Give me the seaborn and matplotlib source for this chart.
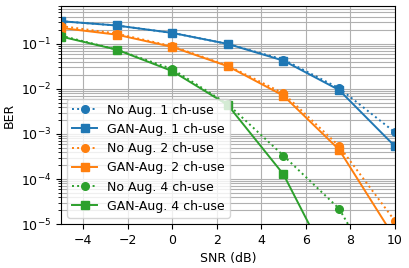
import matplotlib
matplotlib.use("Agg")
import matplotlib.pyplot as plt
import seaborn as sns
import numpy as np
import pandas as pd

snr = [-5, -2.5, 0, 2.5, 5, 7.5, 10]
noaug_1 = [0.32, 0.257, 0.176, 0.1, 0.045, 0.0104, 1.1e-3]
gan_1 = [0.32, 0.257, 0.176, 0.1, 0.0426, 0.0095, 5.4e-4]
noaug_2 = [0.25, 0.17, 0.089, 0.033, 0.008, 5.4e-4, 1.19e-5]
gan_2 = [0.227, 0.161, 0.086, 0.032, 0.0071, 4.5e-4, 4.9e-6]
noaug_4 = [0.153, 0.075, 0.0277, 0.0046, 3.3e-4, 2.2e-5, 1.6e-7]
gan_4 = [0.146, 0.075, 0.025, 0.0044, 1.27e-4, 5e-7, 1e-8]

labels = ["No Aug. 1 ch-use", "GAN-Aug. 1 ch-use", "No Aug. 2 ch-use",
          "GAN-Aug. 2 ch-use", "No Aug. 4 ch-use", "GAN-Aug. 4 ch-use"]
series = [noaug_1, gan_1, noaug_2, gan_2, noaug_4, gan_4]
colors = ["#1f77b4", "#1f77b4", "#ff7f0e", "#ff7f0e", "#2ca02c", "#2ca02c"]
styles = [":", "-", ":", "-", ":", "-"]
markers = ["o", "s", "o", "s", "o", "s"]

plt.rcParams['font.size'] = 9
fig, ax = plt.subplots(figsize=(4.09, 2.68), dpi=100)
fig.subplots_adjust(left=0.149, right=0.965, top=0.978, bottom=0.164)

for lab, vals, c, ls, m in zip(labels, series, colors, styles, markers):
    sns.lineplot(x=snr, y=vals, ax=ax, color=c, linestyle=ls, marker=m,
                 markersize=5.5, markeredgecolor=c, markeredgewidth=1,
                 linewidth=1.4, label=lab)

ax.set_yscale("log")
ax.set_xlim(-5, 10)
ax.set_ylim(1e-5, 0.7)
ax.set_xticks([-4, -2, 0, 2, 4, 6, 8, 10])
ax.grid(True, which="major", color="#b0b0b0", linewidth=0.8)
ax.grid(True, which="minor", axis="y", color="#b0b0b0", linewidth=0.8)
ax.set_xlabel("SNR (dB)")
ax.set_ylabel("BER")
ax.legend(loc="lower left", fontsize=9)
fig.savefig("out.png", dpi=100)
